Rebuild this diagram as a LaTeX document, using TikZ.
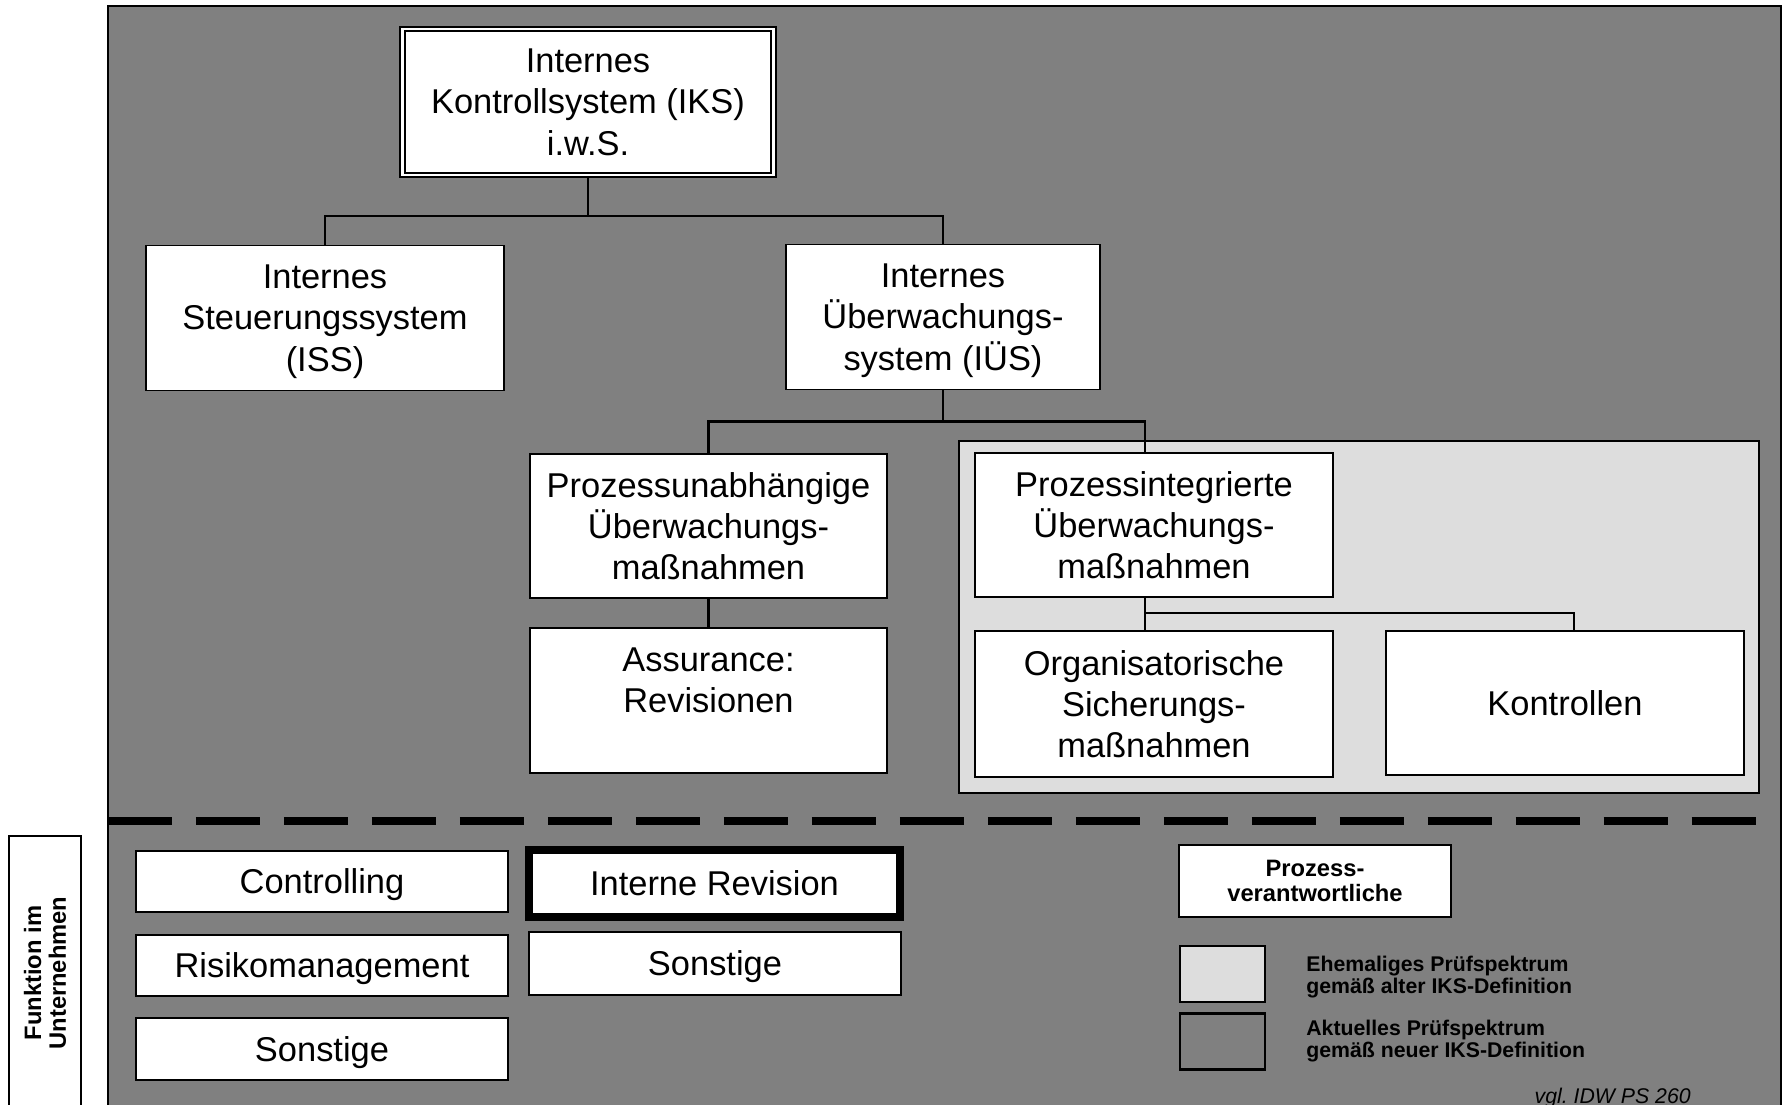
\documentclass[tikz,border=0pt]{standalone}
\usepackage{fontspec}
\setmainfont{Liberation Sans}
\usetikzlibrary{positioning}

\definecolor{bggray}{RGB}{128,128,128}
\definecolor{oldgray}{RGB}{221,221,221}

\newcommand{\bigtxt}{\fontsize{19.6}{23.5}\selectfont}
\newcommand{\legtxt}{\fontsize{12.1}{12.6}\selectfont\bfseries}
\newcommand{\boldtxt}{\fontsize{13.5}{14.2}\selectfont\bfseries}

\tikzset{
  box/.style={draw=black, line width=1.1pt, fill=white, align=center, inner sep=0pt, text depth=0pt, font=\bigtxt},
  bigbox/.style={box, minimum width=7.16cm, minimum height=2.9cm},
  slimbox/.style={box, minimum width=7.44cm, minimum height=1.22cm},
  legbox/.style={draw=black, line width=1.5pt, minimum width=1.7cm, minimum height=1.12cm, inner sep=0pt},
  link/.style={draw=black, line width=1.3pt},
}

\begin{document}
\begin{tikzpicture}[x=0.02cm, y=-0.02cm]
 \useasboundingbox (0,0) rectangle (1783,1105);
 \fill[white] (0,0) rectangle (1783,1105);
 \draw[fill=bggray, line width=1.5pt] (108,6) rectangle (1781,1130);
 \draw[fill=oldgray, line width=1.6pt] (959,441) rectangle (1759,793);
 \draw[line width=4.5pt, dash pattern=on 1.28cm off 0.48cm] (108,821) -- (1759,821);

 % Hierarchie
 \node[box, double, line width=1.3pt, double distance=1.2pt, minimum width=7.42cm, minimum height=2.92cm] (iks) at (588,102) {Internes\\Kontrollsystem (IKS)\\i.w.S.};
 \node[bigbox] (iss) at (325,318) {Internes\\Steuerungssystem\\(ISS)};
 \node[bigbox, minimum width=6.28cm] (ius) at (943,317) {Internes\\Überwachungs-\\system (IÜS)};
 \node[bigbox, minimum width=7.14cm, minimum height=2.88cm] (pu) at (708.5,526) {Prozessunabhängige\\Überwachungs-\\maßnahmen};
 \node[bigbox, minimum width=7.14cm] (asr) at (708.5,700.5) {Assurance:\\Revisionen\\\mbox{}};
 \node[bigbox, minimum height=2.88cm] (pi) at (1154,525) {Prozessintegrierte\\Überwachungs-\\maßnahmen};
 \node[bigbox, minimum height=2.92cm] (os) at (1154,704) {Organisatorische\\Sicherungs-\\maßnahmen};
 \node[bigbox, minimum height=2.88cm] (kon) at (1565,703) {Kontrollen};

 \draw[link] (iks.south) -- ++(0,40) coordinate (j1);
 \draw[link] (iss.north) |- (j1) -| (ius.north);
 \draw[link] (ius.south) -- ++(0,31) coordinate (j2);
 \draw[link] (pu.north) |- (j2) -| ([xshift=-0.18cm]pi.north);
 \draw[link] (pu.south) -- (asr.north);
 \draw[link] ([xshift=-0.18cm]pi.south) -- ++(0,15) coordinate (j3);
 \draw[link] ([xshift=-0.18cm]os.north) |- (j3) -| ([xshift=0.18cm]kon.north);

 % Funktionen
 \node[draw, line width=1.1pt, fill=white, rotate=90, minimum width=5.48cm, minimum height=1.44cm, inner sep=0pt, align=center, font=\boldtxt] (fu) at (45,973) {Funktion im\\Unternehmen};
 \node[slimbox] (ctl) at (322,881.5) {Controlling};
 \node[slimbox] (risk) at (322,965.5) {Risikomanagement};
 \node[slimbox, minimum height=1.24cm] (son1) at (322,1049) {Sonstige};
 \node[box, line width=4.5pt, minimum width=7.42cm, minimum height=1.34cm] (ir) at (714.5,883.5) {Interne Revision};
 \node[slimbox, minimum height=1.26cm] (son2) at (715,963.5) {Sonstige};
 \node[box, line width=1.3pt, minimum width=5.44cm, minimum height=1.44cm, font=\boldtxt] (pv) at (1315,881) {Prozess-\\verantwortliche};

 % Legende
 \node[legbox, fill=oldgray] (leg1) at (1222.5,974) {};
 \node[legbox, fill=bggray] (leg2) at (1222.5,1041.5) {};
 \node[anchor=west, align=left, inner sep=0pt, font=\legtxt] (leg1txt) at (1306,977) {Ehemaliges Prüfspektrum\\gemäß alter IKS-Definition};
 \node[anchor=west, align=left, inner sep=0pt, font=\legtxt] (leg2txt) at (1306,1041) {Aktuelles Prüfspektrum\\gemäß neuer IKS-Definition};
 \node[anchor=base east, inner sep=0pt, font=\fontsize{12.1}{14}\selectfont\itshape] (src) at (1691,1103) {vgl.\ IDW PS 260};
\end{tikzpicture}
\end{document}
